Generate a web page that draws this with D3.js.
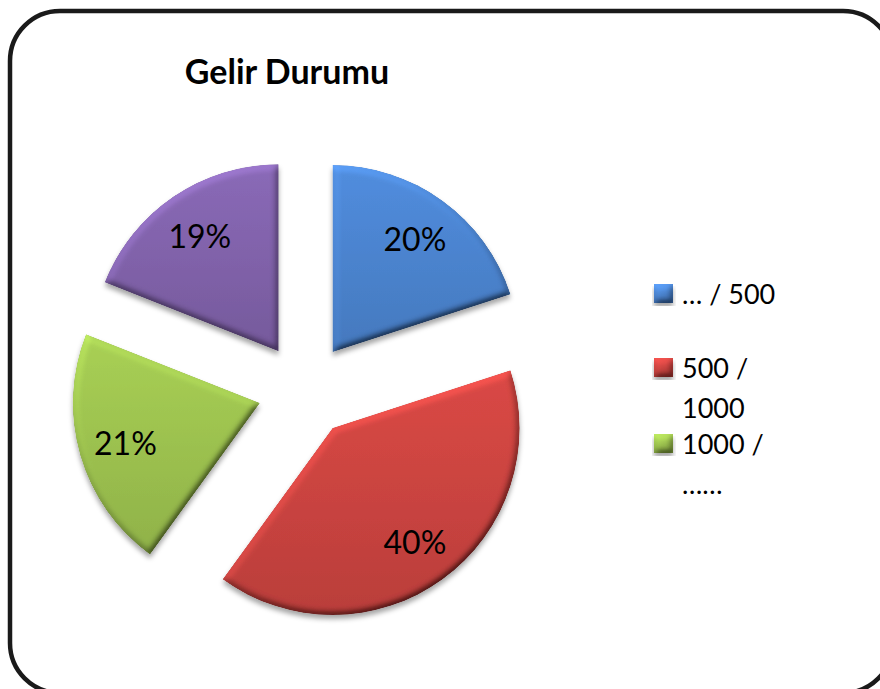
<!DOCTYPE html>
<html lang="tr">
<head>
    <meta charset="UTF-8">
    <title>Gelir Durumu</title>
    <script src="https://d3js.org/d3.v7.min.js"></script>
    <style>
        html, body {
            margin: 0;
            padding: 0;
            background: #ffffff;
        }
        svg {
            display: block;
            font-family: Lato, "Open Sans", sans-serif;
        }
        .title {
            font-size: 34px;
            font-weight: bold;
        }
        .slice-label {
            font-size: 32px;
        }
        .legend text {
            font-size: 27px;
        }
    </style>
</head>
<body>
    <svg id="chart"></svg>

    <script>
        // data
        const categories = ["… / 500", "500 / 1000", "1000 / ……", "(legend cut off)"];
        const values = [20, 40, 21, 19];
        const percentLabels = ["20%", "40%", "21%", "19%"];
        const colors = ["#4a82cc", "#c8433f", "#9bbf4e", "#7f61a8"];
        // legend wraps its labels like the original and only shows what fits
        const legendLines = [["… / 500"], ["500 /", "1000"], ["1000 /", "……"]];

        const W = 880, H = 689;
        const cx = 305, cy = 390;
        const radius = 187;
        const explode = 47;
        const labelRadius = 140;

        const svg = d3.select("#chart")
            .attr("width", W)
            .attr("height", H);

        const defs = svg.append("defs");

        // bevel + drop shadow, roughly like the office chart style
        const filter = defs.append("filter")
            .attr("id", "bevel")
            .attr("x", "-10%").attr("y", "-10%")
            .attr("width", "125%").attr("height", "125%");
        filter.append("feGaussianBlur")
            .attr("in", "SourceAlpha")
            .attr("stdDeviation", 3.5)
            .attr("result", "blur");
        filter.append("feDiffuseLighting")
            .attr("in", "blur")
            .attr("surfaceScale", 4)
            .attr("diffuseConstant", 1)
            .attr("lighting-color", "#ffffff")
            .attr("result", "diffuse")
            .append("feDistantLight")
            .attr("azimuth", 240)
            .attr("elevation", 50);
        filter.append("feComposite")
            .attr("in", "SourceGraphic")
            .attr("in2", "diffuse")
            .attr("operator", "arithmetic")
            .attr("k1", 1.3).attr("k2", 0).attr("k3", 0).attr("k4", 0)
            .attr("result", "lit");
        filter.append("feComposite")
            .attr("in", "lit")
            .attr("in2", "SourceAlpha")
            .attr("operator", "in")
            .attr("result", "litIn");
        filter.append("feGaussianBlur")
            .attr("in", "SourceAlpha")
            .attr("stdDeviation", 2.5)
            .attr("result", "shadowBlur");
        filter.append("feOffset")
            .attr("in", "shadowBlur")
            .attr("dx", 0).attr("dy", 4)
            .attr("result", "shadowOff");
        filter.append("feFlood")
            .attr("flood-color", "#000000")
            .attr("flood-opacity", 0.35)
            .attr("result", "shadowColor");
        filter.append("feComposite")
            .attr("in", "shadowColor")
            .attr("in2", "shadowOff")
            .attr("operator", "in")
            .attr("result", "shadow");
        const merge = filter.append("feMerge");
        merge.append("feMergeNode").attr("in", "shadow");
        merge.append("feMergeNode").attr("in", "litIn");

        // slight vertical gradient for each colour
        colors.forEach((c, i) => {
            const g = defs.append("linearGradient")
                .attr("id", "grad" + i)
                .attr("x1", 0).attr("y1", 0)
                .attr("x2", 0).attr("y2", 1);
            g.append("stop").attr("offset", "0%").attr("stop-color", d3.color(c).brighter(0.25));
            g.append("stop").attr("offset", "100%").attr("stop-color", d3.color(c).darker(0.2));
        });

        // outer rounded border
        svg.append("rect")
            .attr("x", 10)
            .attr("y", 11)
            .attr("width", 883)
            .attr("height", 682)
            .attr("rx", 50)
            .attr("ry", 50)
            .attr("fill", "#ffffff")
            .attr("stroke", "#1a1a1a")
            .attr("stroke-width", 4.5);

        // title
        svg.append("text")
            .attr("class", "title")
            .attr("x", 287)
            .attr("y", 84)
            .attr("text-anchor", "middle")
            .attr("fill", "#000")
            .text("Gelir Durumu");

        // pie
        const pie = d3.pie().sort(null).value(d => d);
        const arcs = pie(values);

        const arc = d3.arc().innerRadius(0).outerRadius(radius);
        const labelArc = d3.arc().innerRadius(labelRadius).outerRadius(labelRadius);
        const offsetArc = d3.arc().innerRadius(explode).outerRadius(explode);

        const pieG = svg.append("g")
            .attr("transform", `translate(${cx},${cy})`);

        const slices = pieG.selectAll(".slice")
            .data(arcs)
            .enter().append("g")
            .attr("class", "slice")
            .attr("transform", d => {
                const [ox, oy] = offsetArc.centroid(d);
                return `translate(${ox},${oy})`;
            });

        slices.append("path")
            .attr("d", arc)
            .attr("fill", (d, i) => `url(#grad${i})`)
            .attr("filter", "url(#bevel)");

        slices.append("text")
            .attr("class", "slice-label")
            .attr("transform", d => `translate(${labelArc.centroid(d)})`)
            .attr("text-anchor", "middle")
            .attr("dominant-baseline", "central")
            .attr("fill", "#000")
            .text((d, i) => percentLabels[i]);

        // legend
        const legend = svg.append("g").attr("class", "legend");
        const legendX = 654, textX = 682;
        const lineGap = 40;
        let baseline = 304;

        legendLines.forEach((lines, i) => {
            const item = legend.append("g");
            item.append("rect")
                .attr("x", legendX)
                .attr("y", baseline - 20)
                .attr("width", 19)
                .attr("height", 19)
                .attr("fill", `url(#grad${i})`)
                .attr("filter", "url(#bevel)");
            item.append("text")
                .attr("x", textX)
                .attr("y", baseline)
                .attr("fill", "#000")
                .selectAll("tspan")
                .data(lines)
                .enter().append("tspan")
                .attr("x", textX)
                .attr("dy", (d, j) => j === 0 ? 0 : lineGap)
                .text(d => d);
            baseline += lines.length === 1 ? 74 : 76;
        });
    </script>
</body>
</html>
